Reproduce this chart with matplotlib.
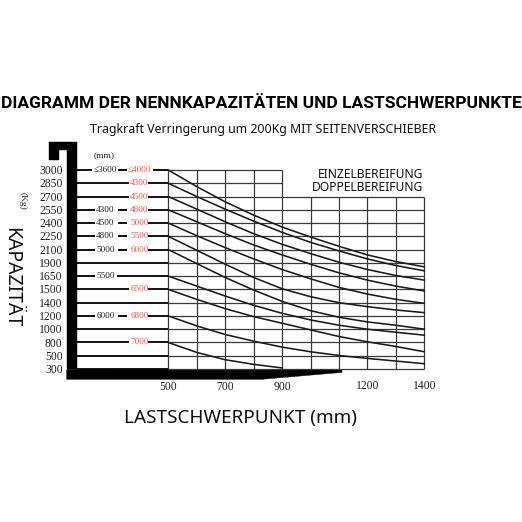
import matplotlib
matplotlib.use("Agg")
import matplotlib.pyplot as plt
from matplotlib.patches import Polygon

# capacity rows (kg), top to bottom, evenly spaced on the chart
capacity = ['3000', '2850', '2700', '2550', '2400', '2250', '2100', '1900',
            '1650', '1500', '1400', '1200', '1000', '800', '500', '300']
# lift heights (mm) written on the rows: black = first column, red = second column
height_black = {0: '≤3600', 3: '4300', 4: '4500', 5: '4800', 6: '5000', 8: '5500', 11: '6000'}
height_red = {0: '≤4000', 1: '4300', 2: '4500', 3: '4800', 4: '5000', 5: '5500',
              6: '6000', 9: '6500', 11: '6800', 13: '7000'}

# load centre (mm) on the grid
load_mm = [500, 600, 700, 800, 900, 1000, 1100, 1200, 1300, 1400]
x_labels = ['500', '700', '900', '1200', '1400']

# curves, read in "row" units (0 = 3000 row, 15 = 300 row)
curves = [
    [0, 1.25, 2.4, 3.4, 4.3, 5.05, 5.75, 6.4, 6.9, 7.3],
    [1, 2.0, 2.95, 3.85, 4.7, 5.45, 6.1, 6.7, 7.2, 7.6],
    [2, 2.95, 3.9, 4.8, 5.6, 6.3, 6.95, 7.5, 7.95, 8.3],
    [3, 3.9, 4.8, 5.65, 6.4, 7.1, 7.75, 8.3, 8.75, 9.12],
    [4, 4.95, 5.85, 6.7, 7.5, 8.2, 8.85, 9.35, 9.75, 10.05],
    [5, 6.05, 7.1, 8.1, 8.95, 9.55, 10.0, 10.3, 10.55, 10.75],
    [6, 7.05, 8.1, 9.05, 9.9, 10.6, 11.1, 11.45, 11.7, 12.0],
    [8, 8.75, 9.5, 10.2, 10.8, 11.3, 11.7, 12.0, 12.23, 12.45],
    [9, 9.75, 10.45, 11.05, 11.55, 12.05, 12.55, 12.95, 13.3, 13.7],
    [11, 11.75, 12.4, 12.9, 13.35, 13.7, 13.98, 14.2, 14.4, 14.6],
    [13, 13.75, 14.3, 14.65, 14.92],
]

RED = '#e8524c'
SERIF = ['Liberation Serif', 'DejaVu Serif']
SANS = ['Noto Sans', 'DejaVu Sans']

# pixel layout of the grid (522 px canvas)
PX_500, PX_PER_MM = 168.3, 0.2844
PY_TOP, PY_ROW = 170.0, 13.267
W = 522


def mm(px):
    return 500 + (px - PX_500) / PX_PER_MM


def row(py):
    return (py - PY_TOP) / PY_ROW


fig = plt.figure(figsize=(5.22, 5.22), dpi=100)
ax = fig.add_axes([0, 0, 1, 1])
ax.set_xlim(mm(0), mm(W))
ax.set_ylim(row(W), row(0))
ax.axis('off')

n_rows = len(capacity)
grid_col = '#3a3a3a'

# vertical grid lines
for x in load_mm:
    top = 0 if x <= 900 else 2
    ax.plot([x, x], [top, n_rows - 1], color=grid_col, lw=0.9, solid_capstyle='butt')

# horizontal grid lines + label part on the left
for i in range(n_rows):
    right = 900 if i < 2 else 1400
    ax.plot([500, right], [i, i], color=grid_col, lw=0.9, solid_capstyle='butt')
    b = height_black.get(i)
    r = height_red.get(i)
    segs = []
    if b is None and r is None:
        segs.append((77, PX_500))
    else:
        if b is not None:
            segs.append((77, 92 if b.startswith('≤') else 95))
            if r is not None:
                segs.append((118, 127))
            else:
                segs.append((117, PX_500))
        else:
            segs.append((77, 129))
        if r is not None:
            segs.append((153 if r.startswith('≤') else 148, PX_500))
    for a, c in segs:
        ax.plot([mm(a), mm(c)], [i, i], color='black', lw=1.3, solid_capstyle='butt')
    if b is not None:
        ax.text(mm(105.5), i, b, color='#222222', fontsize=6.6, family=SERIF,
                ha='center', va='center')
    if r is not None:
        ax.text(mm(139.5), i, r, color=RED, fontsize=6.6, family=SERIF,
                ha='center', va='center')
    ax.text(mm(62.5), i + 0.08, capacity[i], color='#222222', fontsize=8.4,
            family=SERIF, ha='right', va='center')

# capacity curves
for c in curves:
    ax.plot(load_mm[:len(c)], c, color='#1a1a1a', lw=1.15)

# black frame (left bar with hook, bottom bar with tapering end)
frame_left = [(49.3, 141.7), (77.3, 141.7), (77.3, 369.3), (66.7, 369.3),
              (66.7, 150.0), (59.3, 150.0), (59.3, 159.5), (49.3, 159.5)]
frame_bottom = [(66.7, 369.3), (342.0, 369.6), (342.0, 372.4), (262.0, 379.3), (66.7, 379.3)]
for shape in (frame_left, frame_bottom):
    ax.add_patch(Polygon([(mm(px), row(py)) for px, py in shape], closed=True,
                         facecolor='black', edgecolor='black', lw=0.3))

# x tick labels
for lab in x_labels:
    v = int(lab)
    y_off = 1.27 if v >= 1200 else 1.35
    ax.text(v, n_rows - 1 + y_off, lab, color='#222222', fontsize=8.4, family=SERIF,
            ha='center', va='center')

# small unit labels
ax.text(mm(104), row(156), '(mm)', fontsize=6.8, family=SERIF, color='#222222',
        ha='center', va='center')
ax.text(mm(22.5), row(200.5), '(Kg)', fontsize=6.8, family=SERIF, color='#222222',
        ha='center', va='center', rotation=270)

# legend-like text
ax.text(mm(423), row(174), 'EINZELBEREIFUNG', fontsize=8.7, family=SANS,
        ha='right', va='center', color='#111111')
ax.text(mm(423), row(187.5), 'DOPPELBEREIFUNG', fontsize=8.7, family=SANS,
        ha='right', va='center', color='#111111')

# axis titles
fig.text(241 / W, 1 - 418 / W, 'LASTSCHWERPUNKT (mm)', fontsize=13.6, family=SANS,
         fontweight='light', ha='center', va='center', color='#111111')
fig.text(11 / W, 1 - 277 / W, 'KAPAZITÄT', fontsize=14, family=SANS,
         fontweight='light', ha='center', va='center', rotation=270, color='#111111')

# titles
fig.text(261 / W, 1 - 103 / W, 'DIAGRAMM DER NENNKAPAZITÄTEN UND LASTSCHWERPUNKTE',
         fontsize=12.5, fontweight='bold', family=['Roboto', 'DejaVu Sans'],
         ha='center', va='center', color='black')
fig.text(263 / W, 1 - 130 / W, 'Tragkraft Verringerung um 200Kg MIT SEITENVERSCHIEBER',
         fontsize=8.85, family=SANS, ha='center', va='center', color='#111111')

fig.savefig('out.png', dpi=100, facecolor='white')
